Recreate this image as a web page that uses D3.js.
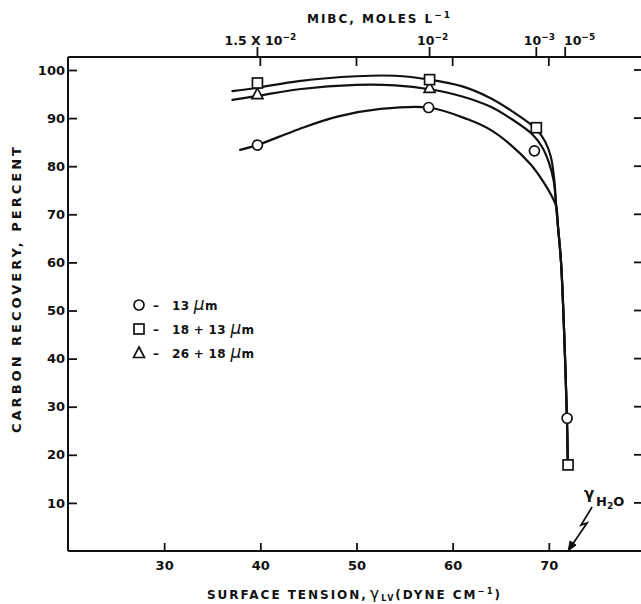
<!DOCTYPE html>
<html>
<head>
<meta charset="utf-8">
<script src="https://cdn.jsdelivr.net/npm/d3@7"></script>
<style>
  body { margin: 0; background: #fff; }
  svg { display: block; background: #fff; }
  text { font-family: "DejaVu Sans", sans-serif; font-weight: bold; fill: #111; }
</style>
</head>
<body>
<svg id="chart" width="641" height="604"></svg>
<script>
// Measured points: surface tension (dyne/cm), carbon recovery (%)
const circlePts   = [[39.7, 84.4], [57.5, 92.2], [68.5, 83.2], [71.9, 27.6]];
const squarePts   = [[39.7, 97.3], [57.6, 98.0], [68.7, 88.0], [72.0, 17.9]];
const trianglePts = [[39.7, 95.0], [57.6, 96.3]];

// Hand-fitted curves through each size fraction
const squareFit = [[37.1, 95.6], [39.7, 96.3], [44, 97.7], [50, 98.7], [54, 98.8], [57.6, 98.0],
                   [61, 96.6], [63.9, 94.2], [66.2, 91.4], [68.7, 87.7], [69.6, 85.2], [70.2, 82.0], [70.55, 77.5]];
const triangleFit = [[37.1, 93.8], [39.7, 94.6], [44, 96.0], [50, 96.9], [54, 96.8], [57.6, 96.0],
                     [61, 94.5], [63.9, 92.4], [66.2, 89.7], [68.3, 86.6], [69.3, 84.0], [70.0, 80.8], [70.5, 77.0]];
const circleFit = [[37.9, 83.4], [39.7, 84.4], [44, 87.7], [48, 90.3], [52.5, 91.9], [57.5, 92.2],
                   [61.5, 89.8], [63.9, 87.6], [66.0, 84.5], [68.1, 80.4], [69.45, 76.7], [70.3, 73.8]];
const sharedTail = [[70.77, 71.6], [70.95, 67.5], [71.27, 60], [71.6, 45], [71.88, 27.6], [71.98, 17.9]];

// Axis ticks
const recoveryTicks = [10, 20, 30, 40, 50, 60, 70, 80, 90, 100];
const tensionTicks = [30, 40, 50, 60, 70];
const topFrameTicks = [40, 50, 60, 70];

// MIBC concentration scale along the top edge
const mibcTension = [39.7, 57.6, 68.7, 71.7];
const mibcBase = ["1.5 X 10", "10", "10", "10"];
const mibcExp = ["\u22122", "\u22122", "\u22123", "\u22125"];

// Legend
const legendShapes = ["circle", "square", "triangle"];
const legendLabels = ["13", "18 + 13", "26 + 18"];

const waterTension = 72;
const yTopValue = 102.7;

const svg = d3.select("#chart");
const x = d3.scaleLinear().domain([20, 80]).range([68, 645]);
const y = d3.scaleLinear().domain([0, 100]).range([551, 70]);

const ink = "#111";
const frame = svg.append("g").attr("stroke", ink).attr("stroke-width", 2).attr("fill", "none");
// frame lines
frame.append("line").attr("x1", x(20)).attr("x2", x(20)).attr("y1", y(yTopValue)).attr("y2", y(0));
frame.append("line").attr("x1", x(20)).attr("x2", x(80)).attr("y1", y(0)).attr("y2", y(0));
frame.append("line").attr("x1", x(20)).attr("x2", x(80)).attr("y1", y(yTopValue)).attr("y2", y(yTopValue));
frame.append("line").attr("x1", x(80)).attr("x2", x(80)).attr("y1", y(yTopValue)).attr("y2", y(0));

// Left axis
const leftAxis = svg.append("g").attr("transform", `translate(${x(20)},0)`)
  .call(d3.axisLeft(y).tickValues(recoveryTicks).tickSizeInner(-9).tickSizeOuter(0).tickPadding(3));
leftAxis.select(".domain").remove();
leftAxis.selectAll(".tick line").attr("stroke", ink).attr("stroke-width", 1.8);
leftAxis.selectAll(".tick text").attr("font-size", 13).attr("fill", ink);

// Right edge ticks
svg.append("g").selectAll("line").data(recoveryTicks).join("line")
  .attr("x1", x(80) - 11).attr("x2", x(80))
  .attr("y1", d => y(d)).attr("y2", d => y(d))
  .attr("stroke", ink).attr("stroke-width", 1.8);

// Bottom axis
const bottomAxis = svg.append("g").attr("transform", `translate(0,${y(0)})`)
  .call(d3.axisBottom(x).tickValues(tensionTicks).tickSizeInner(-8).tickSizeOuter(0).tickPadding(10));
bottomAxis.select(".domain").remove();
bottomAxis.selectAll(".tick line").attr("stroke", ink).attr("stroke-width", 1.8);
bottomAxis.selectAll(".tick text").attr("font-size", 13).attr("fill", ink);

// Top edge: inner ticks and MIBC ticks
const yTop = y(yTopValue);
svg.append("g").selectAll("line").data(topFrameTicks).join("line")
  .attr("x1", d => x(d)).attr("x2", d => x(d))
  .attr("y1", yTop).attr("y2", yTop + 9)
  .attr("stroke", ink).attr("stroke-width", 1.8);
svg.append("g").selectAll("line").data(mibcTension).join("line")
  .attr("x1", d => x(d)).attr("x2", d => x(d))
  .attr("y1", yTop).attr("y2", yTop - 10)
  .attr("stroke", ink).attr("stroke-width", 1.8);

const mibcG = svg.append("g");
let prevRight = -Infinity;
mibcTension.forEach((t, i) => {
  const txt = mibcG.append("text").attr("y", yTop - 12).attr("font-size", 12.5).attr("text-anchor", "start");
  txt.append("tspan").text(mibcBase[i]);
  txt.append("tspan").attr("dy", -5).attr("font-size", 9).text(mibcExp[i]);
  const w = txt.node().getComputedTextLength();
  let left = x(t) - w / 2 + 3;
  if (left < prevRight + 9) left = prevRight + 9;
  txt.attr("x", left);
  prevRight = left + w;
});

// Titles
const topTitle = svg.append("text").attr("x", 307).attr("y", 23).attr("font-size", 12)
  .attr("textLength", 143).attr("lengthAdjust", "spacing");
topTitle.append("tspan").text("MIBC, MOLES L");
topTitle.append("tspan").attr("dy", -5).attr("font-size", 9).text("\u22121");

svg.append("text")
  .attr("transform", "translate(21,290) rotate(-90)")
  .attr("text-anchor", "middle").attr("font-size", 13)
  .attr("textLength", 286).attr("lengthAdjust", "spacing")
  .text("CARBON RECOVERY, PERCENT");

const xTitle = svg.append("text").attr("x", 207).attr("y", 599).attr("font-size", 12)
  .attr("textLength", 293).attr("lengthAdjust", "spacing");
xTitle.append("tspan").text("SURFACE TENSION,");
xTitle.append("tspan").attr("font-size", 16).attr("font-weight", "normal").attr("dx", 2).text("\u03b3");
xTitle.append("tspan").attr("font-size", 8).attr("dy", 2).text("LV");
xTitle.append("tspan").attr("dy", -2).text("(DYNE CM");
xTitle.append("tspan").attr("dy", -5).attr("font-size", 8.5).text("\u22121");
xTitle.append("tspan").attr("dy", 5).text(")");

// Fitted curves
const line = d3.line().x(d => x(d[0])).y(d => y(d[1])).curve(d3.curveCatmullRom.alpha(0.5));
const curves = svg.append("g").attr("fill", "none").attr("stroke", ink).attr("stroke-width", 2.2)
  .attr("stroke-linecap", "round");
[squareFit, triangleFit, circleFit].forEach(fit => {
  curves.append("path").attr("d", line(fit.concat(sharedTail)));
});

// Markers
function marker(g, shape, cx, cy) {
  const attrs = el => el.attr("fill", "#fff").attr("stroke", ink).attr("stroke-width", 1.7);
  if (shape === "circle") {
    attrs(g.append("circle").attr("cx", cx).attr("cy", cy).attr("r", 5));
  } else if (shape === "square") {
    attrs(g.append("rect").attr("x", cx - 5).attr("y", cy - 5).attr("width", 10).attr("height", 10));
  } else {
    attrs(g.append("path").attr("d", `M${cx},${cy - 6}L${cx + 5.5},${cy + 4.5}L${cx - 5.5},${cy + 4.5}Z`));
  }
}
const marks = svg.append("g");
trianglePts.forEach(d => marker(marks, "triangle", x(d[0]), y(d[1])));
circlePts.forEach(d => marker(marks, "circle", x(d[0]), y(d[1])));
squarePts.forEach(d => marker(marks, "square", x(d[0]), y(d[1])));

// Legend
const legend = svg.append("g");
legendShapes.forEach((s, i) => {
  const cy = 305 + i * 24;
  marker(legend, s, 139, cy);
  legend.append("text").attr("x", 153).attr("y", cy + 4.5).attr("font-size", 12).text("\u2013");
  const t = legend.append("text").attr("x", 172).attr("y", cy + 4.5).attr("font-size", 12).attr("letter-spacing", 0.3);
  t.append("tspan").text(legendLabels[i] + " ");
  t.append("tspan").attr("font-size", 17).attr("font-weight", "normal").attr("font-style", "italic").text("\u03bc");
  t.append("tspan").text("m");
});

// Water surface tension marker
const tipX = x(waterTension), tipY = y(0);
const h2o = svg.append("g");
h2o.append("text").attr("x", tipX + 21).attr("y", tipY - 52).attr("text-anchor", "middle")
  .attr("font-size", 15).attr("font-weight", "normal").text("\u03b3");
const ht = h2o.append("text").attr("x", tipX + 28).attr("y", tipY - 45).attr("font-size", 13);
ht.append("tspan").text("H");
ht.append("tspan").attr("dy", 3).attr("font-size", 9).text("2");
ht.append("tspan").attr("dy", -3).text("O");
h2o.append("path")
  .attr("d", `M${tipX + 24},${tipY - 44}L${tipX + 13},${tipY - 26}L${tipX + 19},${tipY - 28}L${tipX + 4},${tipY - 6}`)
  .attr("fill", "none").attr("stroke", ink).attr("stroke-width", 1.8);
h2o.append("path")
  .attr("d", `M${tipX},${tipY}L${tipX + 2},${tipY - 10}L${tipX + 8},${tipY - 6}Z`)
  .attr("fill", ink).attr("stroke", ink).attr("stroke-width", 1);
</script>
</body>
</html>
